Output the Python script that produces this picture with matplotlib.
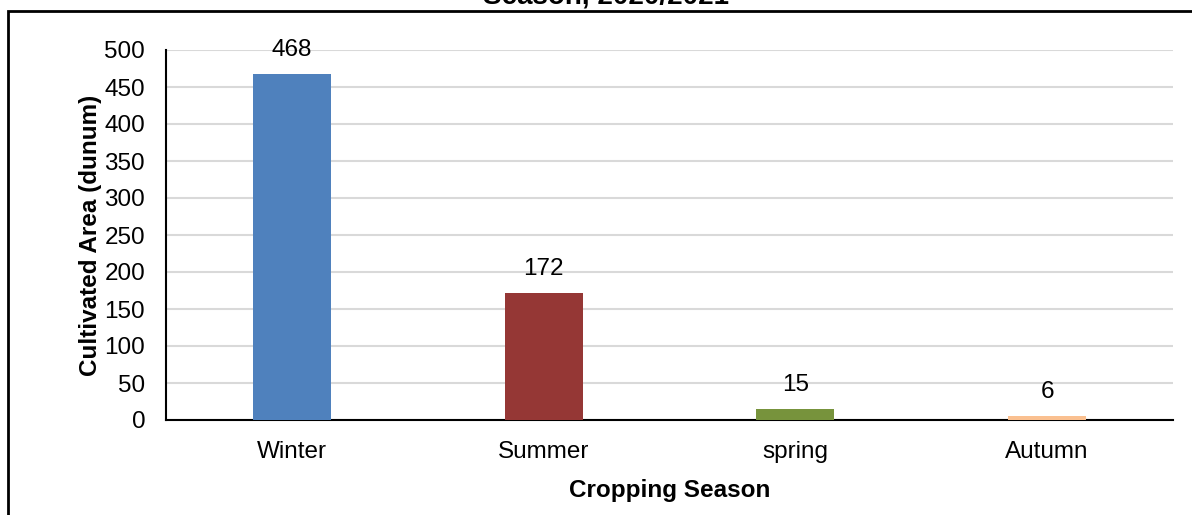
import matplotlib
matplotlib.use("Agg")
import matplotlib.pyplot as plt
from matplotlib.patches import Rectangle

categories = ["Winter", "Summer", "spring", "Autumn"]
values = [468, 172, 15, 6]
colors = ["#4F81BD", "#953735", "#77933C", "#FAC090"]
yticks = [0, 50, 100, 150, 200, 250, 300, 350, 400, 450, 500]

plt.rcParams['font.family'] = ['Liberation Sans', 'DejaVu Sans']

W, H = 1192, 515
fig = plt.figure(figsize=(W/100, H/100), dpi=100)
ax = fig.add_axes([166/W, 1 - 420/H, (1173-166)/W, (420-50)/H])

x = range(len(categories))
bars = ax.bar(x, values, width=0.31, color=colors, zorder=3)
for xi, v in zip(x, values):
    ax.annotate(str(v), (xi, v), xytext=(0, 9), textcoords='offset points',
                ha='center', va='bottom', fontsize=17.5)

ax.set_xlim(-0.5, 3.5)
ax.set_ylim(0, 500)
ax.set_yticks(yticks)
ax.set_xticks(list(x))
ax.set_xticklabels(categories)
ax.tick_params(axis='both', length=0, labelsize=17.5)
ax.tick_params(axis='y', pad=15)
ax.tick_params(axis='x', pad=15)
ax.yaxis.grid(True, color='#D9D9D9', linewidth=1.5, zorder=0)
ax.set_axisbelow(True)
for s in ['top', 'right']:
    ax.spines[s].set_visible(False)
ax.spines['left'].set_linewidth(1.5)
ax.spines['bottom'].set_linewidth(1.5)

ax.set_ylabel("Cultivated Area (dunum)", fontsize=17.5, fontweight='bold', labelpad=2)
ax.set_xlabel("Cropping Season", fontsize=17.5, fontweight='bold', labelpad=12)

# outer border box
fig.patches.append(Rectangle((8/W, -0.1), 1.2, 1 - 11/H + 0.1, transform=fig.transFigure,
                             fill=False, edgecolor='black', linewidth=2))
# title (cut off at top)
fig.text(606/W, 1 - 4/H, "Season, 2020/2021", ha='center', va='baseline',
         fontsize=20, fontweight='bold')

fig.savefig("out.png", dpi=100)
